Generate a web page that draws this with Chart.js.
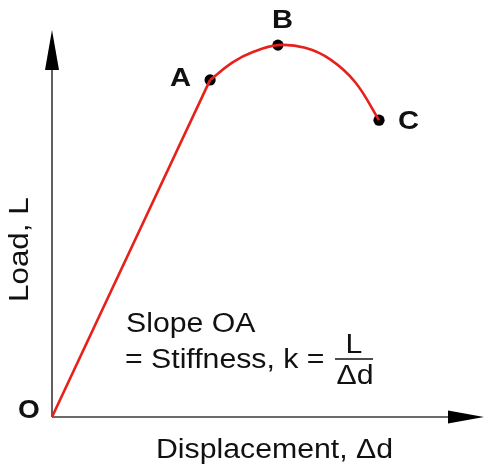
<!DOCTYPE html>
<html>
<head>
<meta charset="utf-8">
<script src="https://cdn.jsdelivr.net/npm/chart.js@4.4.1/dist/chart.umd.min.js"></script>
<style>
  html, body { margin: 0; padding: 0; background: #fff; overflow: hidden; }
  canvas { display: block; }
</style>
</head>
<body>
<canvas id="curve" width="484" height="468"></canvas>
<script>
"use strict";

// load–displacement curve: straight elastic part O→A, then rounded top through B down to C
const ELASTIC_X = [0, 3.66];
const ELASTIC_Y = [0, 8.71];
const CURVE_X = [3.66, 4.19, 4.65, 5.23, 5.86, 6.44, 7.02, 7.57];
const CURVE_Y = [8.71, 9.17, 9.43, 9.61, 9.54, 9.24, 8.65, 7.67];
const MARK_NAMES = ["A", "B", "C"];
const MARK_X = [3.66, 5.23, 7.57];
const MARK_Y = [8.71, 9.61, 7.67];

const RED = "#e6211b";
const INK = "#111";
const AXIS = "#3a3a3a";
const FONT = '"Liberation Sans", Arial, Helvetica, sans-serif';
const STRETCH = 1.12;

function pts(xs, ys) { return xs.map((x, i) => ({ x, y: ys[i] })); }

// text with a little horizontal stretch (Helvetica-ish width)
function text(ctx, str, x, y, size, opts = {}) {
  ctx.save();
  ctx.font = `${opts.bold ? "bold " : ""}${size}px ${FONT}`;
  ctx.fillStyle = INK;
  ctx.textBaseline = "alphabetic";
  ctx.textAlign = opts.align || "left";
  ctx.translate(x, y);
  if (opts.rotate) ctx.rotate(opts.rotate);
  ctx.scale(STRETCH, 1);
  ctx.fillText(str, 0, 0);
  ctx.restore();
}

const axesPlugin = {
  id: "arrowAxes",
  beforeDatasetsDraw(chart) {
    const { ctx, scales } = chart;
    const ox = scales.x.getPixelForValue(0);
    const oy = scales.y.getPixelForValue(0);
    const top = chart.chartArea.top;
    const right = chart.chartArea.right;
    ctx.save();
    ctx.strokeStyle = AXIS;
    ctx.fillStyle = "#000";
    ctx.lineWidth = 1.6;
    ctx.beginPath();
    ctx.moveTo(ox, oy);
    ctx.lineTo(ox, top + 38);
    ctx.moveTo(ox, oy);
    ctx.lineTo(right - 34, oy);
    ctx.stroke();
    // arrow heads
    ctx.beginPath();
    ctx.moveTo(ox, top);
    ctx.lineTo(ox - 7, top + 40);
    ctx.lineTo(ox + 7, top + 40);
    ctx.closePath();
    ctx.fill();
    ctx.beginPath();
    ctx.moveTo(right, oy);
    ctx.lineTo(right - 36, oy - 6.5);
    ctx.lineTo(right - 36, oy + 6.5);
    ctx.closePath();
    ctx.fill();
    ctx.restore();
  },
  afterDraw(chart) {
    const { ctx, scales } = chart;
    const ox = scales.x.getPixelForValue(0);
    const oy = scales.y.getPixelForValue(0);

    // point names next to the dots
    const offsets = { A: [-40, 6], B: [-6, -17], C: [19, 9] };
    MARK_NAMES.forEach((name, i) => {
      const px = scales.x.getPixelForValue(MARK_X[i]);
      const py = scales.y.getPixelForValue(MARK_Y[i]);
      const [dx, dy] = offsets[name];
      text(ctx, name, px + dx, py + dy, 26, { bold: true });
    });
    text(ctx, "O", ox - 34, oy + 1, 25, { bold: true });

    // axis titles
    text(ctx, "Displacement, \u0394d", 156, 458, 27);
    text(ctx, "Load, L", 28, 302, 28, { rotate: -Math.PI / 2 });

    // stiffness note
    text(ctx, "Slope OA", 126, 332, 27);
    text(ctx, "= Stiffness, k =", 125, 368, 27);
    text(ctx, "L", 354, 353, 27, { align: "center" });
    text(ctx, "\u0394d", 355, 384, 27, { align: "center" });
    ctx.save();
    ctx.strokeStyle = INK;
    ctx.lineWidth = 1.5;
    ctx.beginPath();
    ctx.moveTo(335, 359);
    ctx.lineTo(373, 359);
    ctx.stroke();
    ctx.restore();
  },
};

new Chart(document.getElementById("curve"), {
  type: "scatter",
  data: {
    datasets: [
      {
        data: pts(ELASTIC_X, ELASTIC_Y),
        showLine: true,
        borderColor: RED,
        borderWidth: 2.6,
        pointRadius: 0,
        tension: 0,
        clip: false,
      },
      {
        data: pts(CURVE_X, CURVE_Y),
        showLine: true,
        borderColor: RED,
        borderWidth: 2.6,
        pointRadius: 0,
        tension: 0.4,
        clip: false,
      },
      {
        data: pts(MARK_X, MARK_Y),
        showLine: false,
        pointRadius: 5.6,
        pointBackgroundColor: "#000",
        pointBorderWidth: 0,
        clip: false,
      },
    ],
  },
  options: {
    responsive: false,
    animation: false,
    events: [],
    layout: { autoPadding: false, padding: { left: 52, top: 30, right: 0, bottom: 51 } },
    plugins: { legend: { display: false }, tooltip: { enabled: false } },
    scales: {
      x: { type: "linear", min: 0, max: 10, display: false },
      y: { type: "linear", min: 0, max: 10, display: false },
    },
  },
  plugins: [axesPlugin],
});
</script>
</body>
</html>
